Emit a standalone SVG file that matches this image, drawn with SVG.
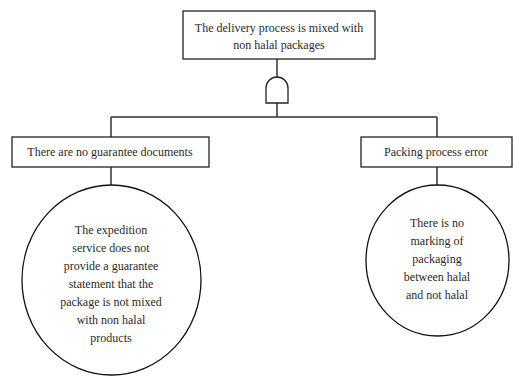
<svg xmlns="http://www.w3.org/2000/svg" width="514" height="377" viewBox="0 0 514 377" font-family="'Liberation Serif', 'DejaVu Serif', serif">
<style>
.box{fill:#fff;stroke:#222;stroke-width:1.3}
.ev{fill:#fff;stroke:#111;stroke-width:1.3}
.ln{fill:none;stroke:#333;stroke-width:1.5}
text{font-family:'Liberation Serif','DejaVu Serif',serif;font-size:12px;fill:#2a2a2a;text-anchor:middle}
</style>
<rect width="514" height="377" fill="#fff"/>
<g id="connectors">
<path class="ln" d="M277 59V77M277 103V117M111 117H437M111 117V137M437 117V137M111 167V185M437 167V185"/>
</g>
<g id="top">
<rect class="box" x="183" y="11" width="192" height="48"/>
<text x="279" y="32">The delivery process is mixed with</text>
<text x="279" y="49">non halal packages</text>
</g>
<g id="and-gate">
<path class="box" d="M266 103V88A11 11 0 0 1 288 88V103Z"/>
</g>
<g id="left-event">
<rect class="box" x="12" y="137" width="197" height="30"/>
<text x="110" y="156">There are no guarantee documents</text>
</g>
<g id="right-event">
<rect class="box" x="361" y="137" width="151" height="30"/>
<text x="436" y="156">Packing process error</text>
</g>
<g id="left-basic">
<ellipse class="ev" cx="111.5" cy="280" rx="89.5" ry="95"/>
<text x="111" y="234">The expedition</text>
<text x="111" y="252">service does not</text>
<text x="111" y="270">provide a guarantee</text>
<text x="111" y="288">statement that the</text>
<text x="111" y="306">package is not mixed</text>
<text x="111" y="324">with non halal</text>
<text x="111" y="342">products</text>
</g>
<g id="right-basic">
<ellipse class="ev" cx="437.5" cy="260.5" rx="71.5" ry="75.5"/>
<text x="437" y="227">There is no</text>
<text x="437" y="245">marking of</text>
<text x="437" y="263">packaging</text>
<text x="437" y="281">between halal</text>
<text x="437" y="299">and not halal</text>
</g>
</svg>
